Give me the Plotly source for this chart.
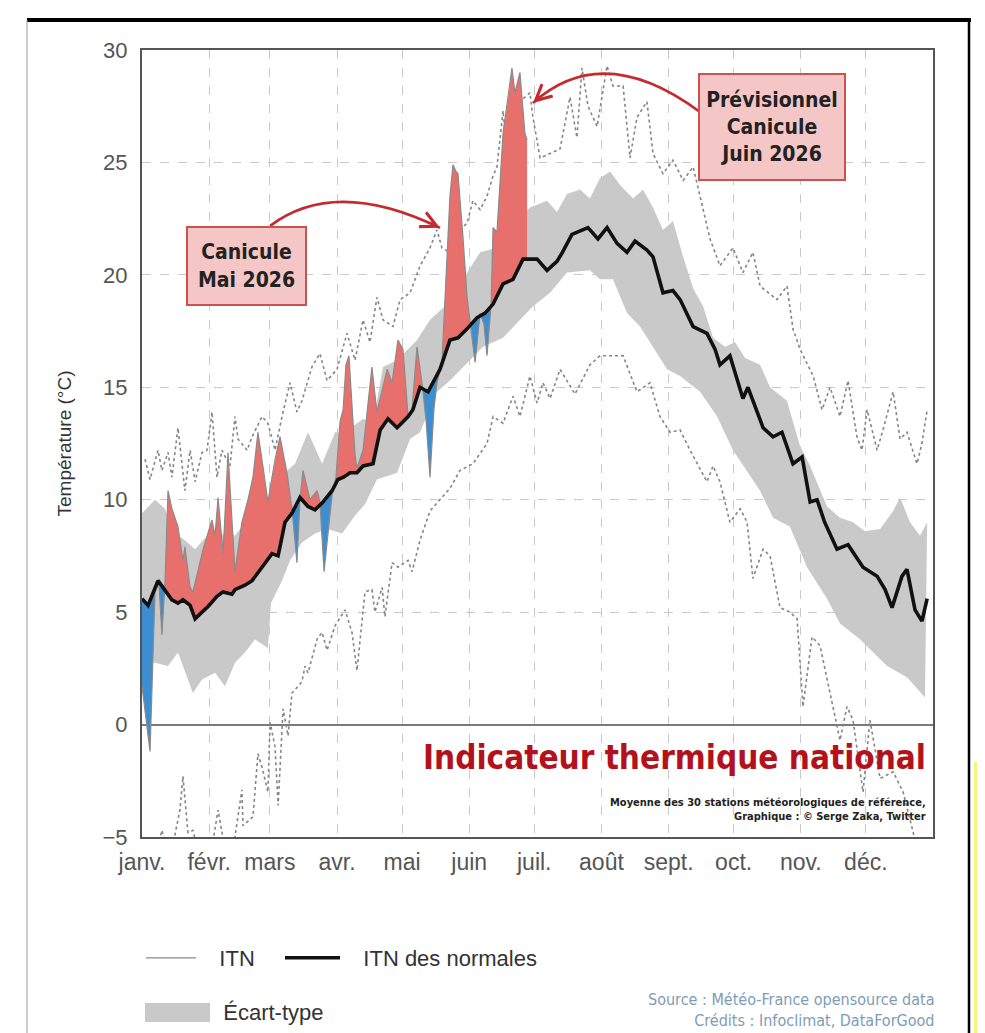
import numpy as np
import plotly.graph_objects as go

# ---------------- data (day of year, °C) ----------------
MONTHS = ["janv.", "févr.", "mars", "avr.", "mai", "juin", "juil.", "août", "sept.", "oct.", "nov.", "déc."]
MONTH_START = [0, 31, 59, 90, 120, 151, 181, 212, 243, 273, 304, 334]
Y_TICKS = [-5, 0, 5, 10, 15, 20, 25, 30]

NORMAL_DAY = [0, 2.8, 7.4, 10.6, 13.8, 16.6, 18.9, 22.2, 24.5, 27.7, 30.5, 34.6, 37.4, 41.5, 42.9, 47.5,
              50.8, 53.5, 56.8, 60.0, 62.8, 66.0, 69.2, 72.9, 76.6, 79.8, 83.1, 87.7, 90.4, 93.0, 96.0,
              99.2, 102.0, 106.6, 109.9, 113.5, 117.7, 122.8, 125.0, 128.3, 132.0, 134.3, 137.5, 142.1,
              145.8, 150.0, 154.6, 158.3, 162.0, 166.6, 171.2, 175.8, 182.3, 186.9, 191.5, 194.0, 198.4,
              205.8, 210.4, 214.6, 219.2, 223.8, 227.5, 233.0, 235.8, 240.4, 245.0, 248.3, 254.3, 260.7,
              264.4, 266.7, 271.3, 277.3, 279.6, 286.6, 291.2, 295.3, 300.4, 304.6, 308.3, 311.5, 315.0,
              320.7, 325.8, 332.7, 339.2, 342.9, 346.1, 350.7, 353.0, 356.7, 359.9, 362.3]
NORMAL_VAL = [5.6, 5.3, 6.4, 6.0, 5.55, 5.4, 5.55, 5.3, 4.7, 5.0, 5.25, 5.7, 5.9, 5.8, 6.0, 6.2,
              6.4, 6.75, 7.2, 7.6, 7.5, 9.0, 9.4, 10.1, 9.7, 9.55, 9.85, 10.4, 10.9, 11.0, 11.2,
              11.2, 11.5, 11.6, 13.1, 13.6, 13.2, 13.7, 14.0, 15.0, 14.8, 15.2, 15.8, 17.1,
              17.2, 17.6, 18.1, 18.3, 18.7, 19.6, 19.8, 20.7, 20.7, 20.2, 20.6, 21.0, 21.8,
              22.1, 21.6, 22.1, 21.4, 21.0, 21.5, 21.1, 20.8, 19.2, 19.3, 18.9, 17.7, 17.4,
              16.7, 16.0, 16.4, 14.5, 15.0, 13.2, 12.8, 13.0, 11.6, 11.9, 9.9, 10.0, 9.0,
              7.8, 8.0, 7.0, 6.6, 6.0, 5.2, 6.6, 6.9, 5.1, 4.6, 5.6]

SD_UP_DAY = [0, 6.0, 10.6, 15.2, 19.8, 24.5, 29.1, 33.7, 38.3, 42.9, 47.5, 52.1, 56.8, 61.4, 66.0, 70.6,
             76.6, 83.1, 89.1, 93.7, 102.0, 106.6, 111.2, 117.7, 126.9, 132.9, 139.8, 148.1, 156.0, 163.8,
             169.8, 179.0, 186.9, 191.5, 196.1, 202.1, 206.7, 211.3, 216.0, 220.6, 226.6, 231.2, 235.8,
             240.4, 245.0, 249.7, 254.3, 258.9, 263.5, 269.0, 273.7, 278.3, 285.2, 289.8, 297.6, 303.6,
             308.3, 316.1, 322.1, 328.1, 333.6, 340.6, 346.6, 349.8, 354.4, 359.0, 362.3]
SD_UP_VAL = [9.4, 10.0, 9.6, 8.5, 8.2, 7.8, 8.3, 8.0, 8.6, 8.4, 9.0, 9.4, 9.8, 10.4, 11.2, 11.6,
             13.0, 11.6, 13.0, 13.0, 13.6, 13.4, 15.9, 16.2, 17.1, 18.0, 18.6, 19.8, 21.0, 21.2,
             22.0, 23.0, 23.3, 22.8, 23.6, 23.8, 23.4, 24.3, 24.6, 24.0, 23.4, 23.8, 23.0,
             22.0, 22.4, 20.8, 19.4, 18.6, 17.2, 16.8, 17.0, 16.3, 16.0, 15.0, 14.4, 12.4,
             11.5, 9.7, 9.2, 9.0, 8.6, 8.7, 9.5, 10.1, 9.0, 8.4, 9.0]

SD_LO_DAY = [0, 6.0, 12.0, 16.6, 23.5, 27.7, 33.7, 38.3, 42.9, 47.5, 52.1, 58.1, 59.5, 64.6, 68.3, 73.8,
             79.8, 85.8, 92.3, 98.3, 102.9, 108.4, 117.7, 123.7, 128.3, 136.1, 142.1, 148.1, 157.4,
             166.6, 174.4, 180.4, 188.3, 196.1, 206.7, 211.3, 217.3, 223.8, 229.8, 235.8, 242.3, 248.3,
             257.5, 265.4, 272.7, 285.2, 291.2, 299.0, 306.9, 316.1, 322.1, 331.3, 343.8, 353.0, 361.3]
SD_LO_VAL = [2.8, 2.75, 2.6, 3.2, 1.4, 2.0, 2.3, 1.7, 2.75, 3.2, 3.8, 3.4, 5.4, 6.4, 7.3, 8.1,
             8.5, 8.7, 8.5, 9.3, 9.8, 10.9, 11.2, 12.7, 13.0, 14.8, 15.3, 15.9, 16.8,
             17.2, 18.0, 18.6, 19.2, 20.1, 20.2, 19.8, 19.8, 18.3, 17.7, 16.8, 15.8, 15.5,
             14.8, 13.7, 12.2, 10.4, 9.2, 8.8, 7.0, 5.6, 4.5, 3.8, 2.6, 2.1, 1.2]

REC_HI_DAY = [1.4, 3.7, 7.4, 9.2, 12.0, 13.8, 16.6, 18.5, 19.8, 22.2, 24.5, 27.7, 30.0, 32.3, 34.6, 36.9,
              40.6, 42.9, 44.3, 48.5, 50.8, 55.4, 58.1, 61.4, 64.6, 68.3, 71.5, 73.8, 78.4, 82.1, 85.4,
              90.0, 94.6, 98.3, 102.0, 105.2, 108.4, 111.2, 115.8, 119.1, 123.7, 128.3, 132.9, 136.1,
              138.4, 142.1, 146.7, 150.0, 152.7, 156.0, 159.2, 162.0, 163.8, 166.6, 167.5, 172.1, 179.0,
              180.4, 183.7, 188.3, 192.9, 197.5, 200.7, 203.0, 205.8, 210.0, 214.6, 217.3, 222.0, 225.2,
              228.4, 233.0, 235.8, 240.4, 245.0, 249.7, 254.3, 257.5, 262.1, 266.7, 272.7, 277.3, 281.9,
              285.2, 293.0, 297.6, 300.4, 303.6, 309.7, 313.8, 317.5, 322.1, 325.8, 329.9, 332.2, 334.6,
              339.2, 341.9, 346.6, 349.8, 353.0, 357.6, 359.9, 362.3]
REC_HI_VAL = [11.8, 10.9, 12.2, 11.3, 12.1, 11.0, 13.2, 11.5, 10.4, 12.2, 10.8, 12.1, 12.2, 13.9, 11.0, 12.2,
              11.5, 13.7, 12.7, 12.2, 12.8, 13.7, 13.4, 12.2, 13.7, 15.2, 13.9, 14.4, 15.9, 16.5, 15.3,
              15.8, 17.4, 16.2, 18.0, 17.0, 19.0, 18.0, 17.7, 18.9, 19.2, 20.4, 21.2, 22.0,
              21.2, 21.0, 22.0, 22.3, 23.3, 22.9, 23.5, 24.4, 24.8, 27.3, 26.3, 27.5, 28.1,
              27.0, 25.2, 25.4, 25.6, 27.9, 26.1, 29.2, 27.5, 26.6, 29.3, 28.4, 28.4, 25.2,
              27.0, 27.7, 25.4, 24.5, 25.1, 24.2, 24.8, 23.5, 21.6, 20.4, 21.2, 20.1, 21.0,
              19.5, 18.9, 19.5, 17.6, 16.7, 15.5, 14.0, 15.0, 13.7, 15.3, 12.8, 12.2, 14.0,
              12.2, 13.1, 14.8, 12.7, 13.0, 11.6, 12.5, 14.0]

REC_LO_DAY = [0, 6.0, 9.2, 12.9, 17.5, 18.9, 21.2, 23.5, 26.8, 31.4, 35.1, 36.9, 40.6, 46.1, 46.6, 51.2,
              53.5, 55.4, 58.1, 59.1, 61.4, 62.8, 65.1, 67.4, 69.2, 73.8, 75.2, 76.6, 80.8, 83.1, 85.4,
              89.1, 93.7, 96.9, 99.2, 102.9, 106.1, 107.5, 110.8, 112.1, 115.4, 118.1, 122.8, 124.6,
              128.3, 132.9, 137.5, 142.1, 146.7, 152.7, 159.2, 162.0, 166.6, 171.2, 174.4, 179.0, 182.3,
              185.0, 188.3, 192.9, 199.8, 206.7, 211.3, 214.6, 222.0, 228.4, 234.4, 239.0, 243.7, 248.3,
              252.9, 260.7, 263.5, 266.7, 271.3, 276.0, 279.2, 281.9, 286.6, 289.8, 294.4, 299.0, 302.3,
              305.0, 309.2, 312.9, 317.5, 322.1, 325.3, 328.1, 332.7, 335.9, 340.6, 346.6, 351.2, 355.8,
              359.0, 362.3]
REC_LO_VAL = [-6.5, -6.0, -4.7, -6.0, -3.8, -2.3, -4.8, -4.7, -6.0, -6.0, -3.8, -4.8, -6.5, -2.9, -4.5, -4.1,
              -1.3, -1.9, -3.0, 0.1, -1.0, -3.6, 0.7, -0.5, 1.4, 1.9, 2.6, 2.3, 3.8, 4.1, 3.3,
              4.4, 5.1, 4.1, 2.4, 5.9, 6.0, 5.0, 6.1, 4.8, 7.2, 7.0, 7.3, 6.8,
              8.2, 9.5, 10.0, 10.5, 11.3, 11.6, 12.5, 13.7, 13.4, 14.6, 13.7, 15.5, 14.3,
              15.2, 14.5, 15.8, 14.7, 16.0, 16.4, 16.4, 16.4, 14.8, 15.2, 13.7, 13.0, 13.1,
              12.2, 10.8, 11.5, 10.8, 9.0, 9.6, 9.0, 6.5, 7.8, 7.5, 5.2, 5.0, 4.7,
              0.8, 3.9, 3.5, 1.4, -0.7, 0.8, 0.2, -3.0, 0.2, -2.4, -2.1, -3.0, -4.7,
              -6.0, -6.5]

ITN_DAY = [0, 3.7, 6.0, 7.8, 9.2, 10.6, 12.0, 13.8, 16.6, 18.9, 19.8, 22.2, 23.5, 25.8, 28.2, 32.3,
           33.7, 35.1, 37.4, 39.7, 42.9, 46.1, 48.9, 51.2, 53.5, 55.8, 58.1, 61.4, 63.7, 66.9, 69.2,
           71.5, 72.9, 74.3, 77.5, 80.8, 82.1, 84.0, 86.3, 87.7, 89.5, 91.4, 92.8, 94.1, 95.5, 96.9,
           98.3, 99.2, 102.0, 106.1, 108.4, 113.1, 115.4, 118.1, 120.4, 122.8, 124.6, 126.9, 129.2,
           131.1, 132.9, 134.7, 136.1, 138.4, 139.8, 142.1, 143.5, 144.9, 145.8, 147.2, 148.1, 150.0,
           151.4, 153.7, 156.0, 157.8, 159.2, 161.1, 162.0, 163.8, 166.6, 168.9, 170.7, 172.1, 174.4,
           176.7, 177.7]
ITN_VAL = [1.7, -1.2, 5.9, 6.3, 4.0, 6.3, 10.4, 9.6, 8.8, 7.3, 7.9, 6.1, 5.9, 6.8, 7.8, 9.1,
           8.4, 10.1, 7.6, 12.1, 6.8, 9.0, 10.0, 11.0, 13.0, 11.5, 9.9, 11.8, 12.8, 11.2, 9.6,
           7.2, 10.0, 11.3, 10.0, 10.4, 9.9, 6.8, 9.0, 10.2, 11.0, 13.5, 14.0, 16.0, 16.4, 14.0,
           12.0, 11.4, 12.2, 15.9, 13.9, 15.8, 15.2, 17.1, 16.7, 13.7, 14.0, 16.8, 15.2,
           13.5, 11.0, 14.0, 15.2, 16.1, 19.0, 23.5, 24.9, 24.6, 24.5, 23.0, 21.7, 19.0,
           17.9, 16.1, 18.3, 17.8, 16.4, 18.7, 22.1, 21.9, 26.3, 27.8, 29.2, 28.1, 29.0,
           26.3, 26.0]

# ---------------- colours / fonts ----------------
RED = "rgb(232,112,108)"
BLUE = "rgb(60,142,208)"
BAND = "rgb(201,201,201)"
GRID = "#c9c9c9"
AX_FONT = "Liberation Sans, Arial, sans-serif"
NARROW = "DejaVu Sans Condensed, sans-serif"

# page has an 8px body margin: the figure is placed at (8, 8) on screen
OFF = 8
W, H = 977, 1025
ML, MT = 142 - OFF, 50 - OFF
MR = W - (933 - OFF)
MB = 196
PW, PH = W - ML - MR, H - MT - MB


def px(xs):
    """screen x pixel -> paper x"""
    return (xs - OFF - ML) / PW


def py(ys):
    """screen y pixel -> paper y"""
    return (H - MB - (ys - OFF)) / PH


# ---------------- anomaly fill geometry (ITN vs normal) ----------------
itn_d = np.array(ITN_DAY, float)
itn_v = np.array(ITN_VAL, float)
nd = np.array(NORMAL_DAY, float)
nv = np.array(NORMAL_VAL, float)
grid = np.union1d(itn_d, nd[(nd >= itn_d[0]) & (nd <= itn_d[-1])])
ga = np.interp(grid, itn_d, itn_v)
gb = np.interp(grid, nd, nv)
fx, fa, fb = [grid[0]], [ga[0]], [gb[0]]
for i in range(1, len(grid)):
    d0 = ga[i - 1] - gb[i - 1]
    d1 = ga[i] - gb[i]
    if d0 * d1 < 0:
        t = d0 / (d0 - d1)
        xc = grid[i - 1] + t * (grid[i] - grid[i - 1])
        yc = gb[i - 1] + t * (gb[i] - gb[i - 1])
        fx.append(xc); fa.append(yc); fb.append(yc)
    fx.append(grid[i]); fa.append(ga[i]); fb.append(gb[i])
fx, fa, fb = np.array(fx), np.array(fa), np.array(fb)
hi = np.maximum(fa, fb)
lo = np.minimum(fa, fb)

fig = go.Figure()

# standard deviation band
fig.add_trace(go.Scatter(
    x=SD_UP_DAY + SD_LO_DAY[::-1], y=SD_UP_VAL + SD_LO_VAL[::-1],
    fill="toself", fillcolor=BAND, line=dict(width=0), mode="lines",
    showlegend=False, hoverinfo="skip"))

# record envelopes (dotted)
for dd, vv in ((REC_HI_DAY, REC_HI_VAL), (REC_LO_DAY, REC_LO_VAL)):
    fig.add_trace(go.Scatter(x=dd, y=vv, mode="lines",
                             line=dict(color="#858585", width=1.6, dash="dot"),
                             showlegend=False, hoverinfo="skip"))

# red / blue anomaly areas
fig.add_trace(go.Scatter(
    x=np.concatenate([fx, fx[::-1]]), y=np.concatenate([hi, fb[::-1]]),
    fill="toself", fillcolor=RED, line=dict(width=0), mode="lines",
    showlegend=False, hoverinfo="skip"))
fig.add_trace(go.Scatter(
    x=np.concatenate([fx, fx[::-1]]), y=np.concatenate([lo, fb[::-1]]),
    fill="toself", fillcolor=BLUE, line=dict(width=0), mode="lines",
    showlegend=False, hoverinfo="skip"))

# ITN 2026 line
fig.add_trace(go.Scatter(x=ITN_DAY, y=ITN_VAL, mode="lines",
                         line=dict(color="#8a8a8a", width=1.2),
                         name="\u00a0\u00a0\u00a0ITN", legend="legend"))
# normals
fig.add_trace(go.Scatter(x=NORMAL_DAY, y=NORMAL_VAL, mode="lines",
                         line=dict(color="#111111", width=3.6),
                         name="\u00a0\u00a0\u00a0ITN des normales", legend="legend3"))
# legend entry for the standard-deviation band
fig.add_trace(go.Scatter(x=[None], y=[None], mode="lines",
                         line=dict(color=BAND, width=19),
                         name="\u00a0\u00a0Écart-type", legend="legend2"))

# ---------------- decorations ----------------
ARROW_RED = "#c42a2f"
shapes = [
    # curved arrows (data coordinates)
    dict(type="path", xref="x", yref="y",
         path="M 59.1,22.18 Q 89.1,24.36 137.5,22.09",
         line=dict(color=ARROW_RED, width=2.6)),
    dict(type="path", xref="x", yref="y",
         path="M 257.5,27.24 Q 212.7,30.44 180.4,27.64",
         line=dict(color=ARROW_RED, width=2.6)),
    # outer frame
    dict(type="line", xref="paper", yref="paper", x0=px(27), x1=px(971), y0=py(20), y1=py(20),
         line=dict(color="#000000", width=4)),
    dict(type="line", xref="paper", yref="paper", x0=px(27), x1=px(27), y0=py(20), y1=py(1034),
         line=dict(color="#9a9a9a", width=1)),
    dict(type="line", xref="paper", yref="paper", x0=px(969), x1=px(969), y0=py(20), y1=py(1034),
         line=dict(color="#000000", width=2.5)),
    # yellow glow at the right edge of the screenshot
    dict(type="rect", xref="paper", yref="paper", x0=px(974), x1=px(985), y0=py(762), y1=py(1034),
         line=dict(width=0), fillcolor="rgb(255,240,120)", layer="above"),
    # taller swatch for the "Écart-type" legend symbol
    dict(type="rect", xref="paper", yref="paper", x0=px(145), x1=px(210), y0=py(1003), y1=py(1022),
         line=dict(width=0), fillcolor=BAND, layer="above"),
]

annotations = [
    dict(x=137.5, y=22.09, xref="x", yref="y", ax=-10.8, ay=-5.2, text="", showarrow=True,
         arrowhead=5, arrowsize=1.3, arrowwidth=2.4, arrowcolor=ARROW_RED),
    dict(x=180.4, y=27.64, xref="x", yref="y", ax=8.9, ay=-8.0, text="", showarrow=True,
         arrowhead=5, arrowsize=1.3, arrowwidth=2.4, arrowcolor=ARROW_RED),
    dict(x=48.2, y=20.4, xref="x", yref="y", text="<b>Canicule<br>Mai 2026</b>", showarrow=False,
         font=dict(family=NARROW, size=21, color="#222222"), align="center",
         bgcolor="#f4c6c6", bordercolor="#c9534f", borderwidth=2, borderpad=2,
         width=113, height=72),
    dict(x=290.7, y=26.58, xref="x", yref="y",
         text="<b>Prévisionnel<br>Canicule<br>Juin 2026</b>", showarrow=False,
         font=dict(family=NARROW, size=21, color="#222222"), align="center",
         bgcolor="#f4c6c6", bordercolor="#c9534f", borderwidth=2, borderpad=2,
         width=140, height=100),
    dict(x=px(928), y=py(757), xref="paper", yref="paper", xanchor="right", yanchor="middle",
         text="<b>Indicateur thermique national</b>", showarrow=False,
         font=dict(family=NARROW, size=33, color="#b3121c")),
    dict(x=px(928), y=py(809), xref="paper", yref="paper", xanchor="right", yanchor="middle",
         text="<b>Moyenne des 30 stations météorologiques de référence,</b><br>"
              "<b>Graphique : © Serge Zaka, Twitter</b>",
         showarrow=False, align="right",
         font=dict(family=NARROW, size=11, color="#222222")),
    dict(x=px(936), y=py(1010), xref="paper", yref="paper", xanchor="right", yanchor="middle",
         text="Source : Météo-France opensource data<br>Crédits : Infoclimat, DataForGood",
         showarrow=False, align="right",
         font=dict(family=NARROW, size=16, color="#7d9cb6")),
]

LEG_FONT = dict(family=AX_FONT, size=22, color="#333333")
fig.update_layout(
    width=W, height=H,
    margin=dict(l=ML, r=MR, t=MT, b=MB, autoexpand=False),
    paper_bgcolor="white", plot_bgcolor="white",
    shapes=shapes, annotations=annotations,
    legend=dict(orientation="h", x=px(141), y=py(958), xanchor="left", yanchor="middle",
                font=LEG_FONT, itemwidth=50, bgcolor="rgba(0,0,0,0)"),
    legend3=dict(orientation="h", x=px(280), y=py(958), xanchor="left", yanchor="middle",
                 font=LEG_FONT, itemwidth=55, bgcolor="rgba(0,0,0,0)"),
    legend2=dict(orientation="h", x=px(141), y=py(1012), xanchor="left", yanchor="middle",
                 font=LEG_FONT, itemwidth=60, bgcolor="rgba(0,0,0,0)"),
    xaxis=dict(range=[0, 365], tickmode="array", tickvals=MONTH_START, ticktext=MONTHS,
               showgrid=True, gridcolor=GRID, griddash="dash", gridwidth=1,
               showline=True, linecolor="#555555", linewidth=2, mirror=True,
               ticks="", zeroline=False, ticklabelstandoff=3,
               tickfont=dict(family=AX_FONT, size=23, color="#555555")),
    yaxis=dict(range=[-5, 30], tickmode="array", tickvals=Y_TICKS,
               showgrid=True, gridcolor=GRID, griddash="dash", gridwidth=1,
               showline=True, linecolor="#555555", linewidth=2, mirror=True,
               ticks="", zeroline=True, zerolinecolor="#7a7a7a", zerolinewidth=2,
               ticklabelstandoff=8,
               tickfont=dict(family=AX_FONT, size=22, color="#555555"),
               title=dict(text="Température (°C)", standoff=26,
                          font=dict(family=AX_FONT, size=19, color="#333333"))),
)

fig.write_html("out.html")
